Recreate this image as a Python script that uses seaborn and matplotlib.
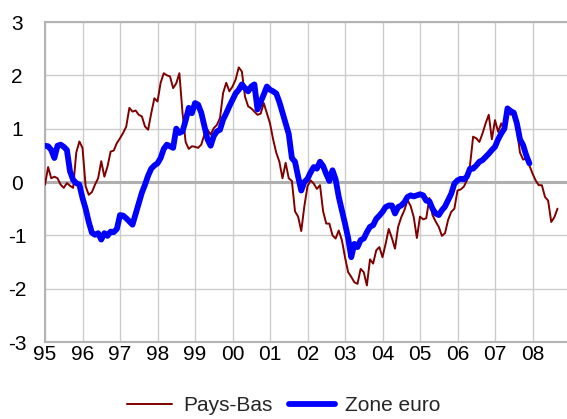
import numpy as np
import pandas as pd
import matplotlib
matplotlib.use("Agg")
import matplotlib.pyplot as plt
import seaborn as sns

# monthly values, Jan 1995 onwards
pays_bas = [
    -0.05, 0.28, 0.07, 0.10, 0.07, -0.05, -0.11, -0.02, -0.07, -0.11, 0.55, 0.76,   # 1995
    0.64, -0.08, -0.24, -0.19, -0.05, 0.07, 0.39, 0.10, 0.29, 0.57, 0.59, 0.73,      # 1996
    0.82, 0.92, 1.04, 1.39, 1.32, 1.34, 1.26, 1.23, 1.04, 0.98, 1.29, 1.57,          # 1997
    1.51, 1.86, 2.04, 2.00, 1.98, 1.76, 1.85, 2.04, 1.30, 0.75, 0.62, 0.67,          # 1998
    0.66, 0.64, 0.70, 0.89, 0.98, 0.89, 1.01, 1.07, 1.20, 1.67, 1.86, 1.70,          # 1999
    1.79, 1.92, 2.15, 2.07, 1.60, 1.42, 1.38, 1.32, 1.26, 1.28, 1.48, 1.29,          # 2000
    1.10, 0.80, 0.55, 0.38, 0.07, 0.36, 0.07, 0.02, -0.55, -0.65, -0.92, -0.45,      # 2001
    -0.08, 0.03, -0.03, -0.13, -0.06, -0.55, -0.78, -0.78, -1.00, -1.06, -0.91, -1.09,  # 2002
    -1.41, -1.69, -1.78, -1.88, -1.91, -1.63, -1.69, -1.94, -1.45, -1.53, -1.28, -1.22,  # 2003
    -1.41, -1.16, -0.88, -1.05, -1.25, -0.84, -0.66, -0.53, -0.34, -0.45, -0.66, -1.05,  # 2004
    -0.65, -0.70, -0.68, -0.30, -0.62, -0.74, -0.84, -1.01, -0.96, -0.71, -0.56, -0.50,  # 2005
    -0.16, -0.14, -0.09, 0.03, 0.31, 0.85, 0.82, 0.75, 0.91, 1.10, 1.26, 0.80,       # 2006
    1.16, 0.94, 1.10, 0.97, 1.32, 1.26, 1.32, 0.97, 0.55, 0.42, 0.44, 0.31,          # 2007
    0.16, 0.03, -0.06, -0.06, -0.28, -0.35, -0.75, -0.66, -0.50,                     # 2008
]

zone_euro = [
    0.68, 0.67, 0.60, 0.45, 0.68, 0.70, 0.66, 0.60, 0.20, 0.04, -0.02, -0.05,        # 1995
    -0.30, -0.50, -0.75, -0.95, -0.99, -0.96, -1.08, -0.96, -1.01, -0.93, -0.94, -0.88,  # 1996
    -0.62, -0.63, -0.68, -0.74, -0.80, -0.60, -0.40, -0.20, -0.05, 0.12, 0.25, 0.31,  # 1997
    0.35, 0.45, 0.62, 0.70, 0.67, 0.64, 1.00, 0.92, 0.95, 1.15, 1.39, 1.29,          # 1998
    1.48, 1.45, 1.30, 1.05, 0.80, 0.68, 0.86, 0.95, 0.98, 1.17, 1.29, 1.42,          # 1999
    1.54, 1.66, 1.73, 1.83, 1.76, 1.70, 1.79, 1.83, 1.36, 1.50, 1.64, 1.79,          # 2000
    1.73, 1.70, 1.66, 1.50, 1.30, 1.10, 0.90, 0.45, 0.38, 0.10, -0.16, 0.00,         # 2001
    0.06, 0.18, 0.28, 0.25, 0.38, 0.30, 0.15, 0.02, 0.22, 0.05, -0.28, -0.53,        # 2002
    -0.78, -1.05, -1.41, -1.16, -1.22, -1.09, -1.06, -0.94, -0.84, -0.81, -0.69, -0.63,  # 2003
    -0.56, -0.47, -0.44, -0.44, -0.59, -0.47, -0.44, -0.38, -0.28, -0.25, -0.27, -0.25,  # 2004
    -0.23, -0.25, -0.35, -0.36, -0.50, -0.59, -0.62, -0.53, -0.46, -0.34, -0.22, -0.03,  # 2005
    0.03, 0.06, 0.05, 0.10, 0.25, 0.25, 0.31, 0.38, 0.41, 0.47, 0.53, 0.60,          # 2006
    0.66, 0.80, 0.91, 1.00, 1.38, 1.33, 1.30, 1.10, 0.80, 0.69, 0.50, 0.35,          # 2007
]

years = list(range(1995, 2009))
tick_labels = ["95", "96", "97", "98", "99", "00", "01", "02", "03", "04", "05", "06", "07", "08"]
y_ticks = [-3, -2, -1, 0, 1, 2, 3]


def month_axis(n):
    dates = pd.date_range("1995-01-01", periods=n, freq="MS")
    return dates.year + (dates.month - 1) / 12


df_pb = pd.DataFrame({"t": month_axis(len(pays_bas)), "v": pays_bas})
df_ze = pd.DataFrame({"t": month_axis(len(zone_euro)), "v": zone_euro})

sns.set_style("white")
plt.rcParams["font.family"] = ["Liberation Sans", "DejaVu Sans"]

fig = plt.figure(figsize=(5.67, 4.19), dpi=100)
ax = fig.add_axes([45 / 567, 1 - 342 / 419, 522 / 567, 320 / 419])

sns.lineplot(data=df_pb, x="t", y="v", ax=ax, color="#800000", linewidth=1.4,
             label="Pays-Bas", zorder=3)
sns.lineplot(data=df_ze, x="t", y="v", ax=ax, color="#0000ff", linewidth=4.2,
             label="Zone euro", zorder=4)

ax.set_xlim(1995, 2008.92)
ax.set_ylim(-3, 3)
ax.set_xticks(years)
ax.set_xticklabels(tick_labels)
ax.set_yticks(y_ticks)
ax.set_yticklabels([str(v) for v in y_ticks])
ax.set_xlabel("")
ax.set_ylabel("")

ax.grid(True, color="#cccccc", linewidth=1.0, zorder=0)
ax.axhline(0, color="#b0b0b0", linewidth=2.2, zorder=1)

for side in ["left", "top", "bottom"]:
    ax.spines[side].set_color("#b4b4b4")
    ax.spines[side].set_linewidth(1.5)
ax.spines["right"].set_visible(False)

ax.tick_params(axis="both", length=0, labelsize=15, labelcolor="black")
ax.tick_params(axis="y", pad=20)
ax.tick_params(axis="x", pad=2)
for lab in ax.get_yticklabels():
    lab.set_ha("center")

handles, labels = ax.get_legend_handles_labels()
ax.get_legend().remove()
fig.legend(handles, labels, loc="lower center", bbox_to_anchor=(0.5, -0.035), ncol=2,
           frameon=False, fontsize=15, handlelength=2.2, handletextpad=0.5,
           columnspacing=0.8)

fig.savefig("out.png", dpi=100)
